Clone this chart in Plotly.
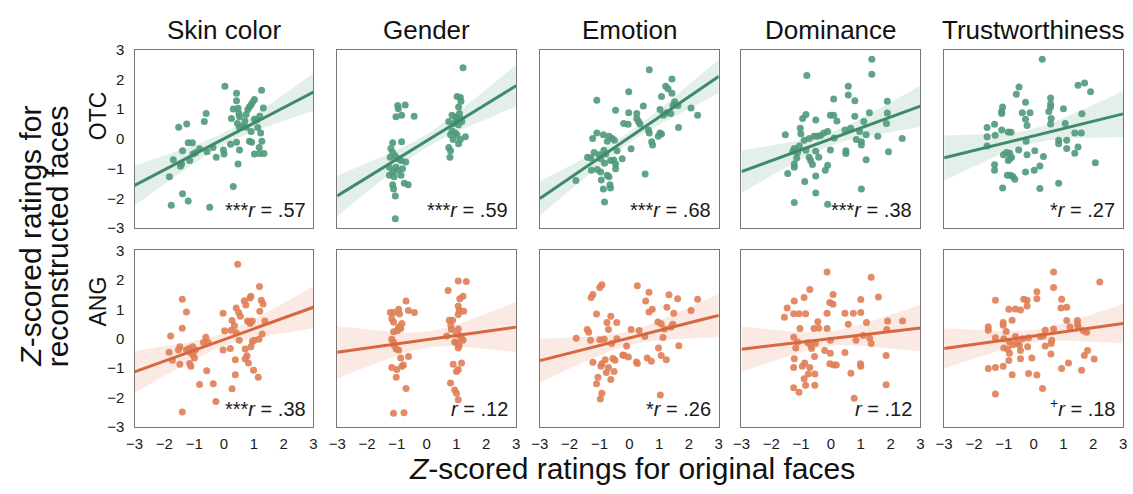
import numpy as np
import plotly.graph_objects as go

rows = ["OTC", "ANG"]
traits = ["Skin color", "Gender", "Emotion", "Dominance", "Trustworthiness"]
r_text = [["***", ".57"], ["***", ".59"], ["***", ".68"], ["***", ".38"], ["*", ".27"],
          ["***", ".38"], ["", ".12"], ["*", ".26"], ["", ".12"], ["+", ".18"]]
tick_vals = [-3, -2, -1, 0, 1, 2, 3]
tick_text = ["\u22123", "\u22122", "\u22121", "0", "1", "2", "3"]

# ---------------- OTC row ----------------
otc_skin_x = [0.03, 0.42, 1.26, 1.02, 0.96, 0.91, 0.85, 0.80, 0.42, 1.32, 0.47, 0.25, 0.52, 0.74, 1.20, 1.09, 1.02, 0.50,
              -0.60, -0.66, -1.52, -1.25, 0.63, 0.52, 0.45, 0.74, 0.91, 1.13, 1.23, 1.27, 1.18, 1.20, 1.34, 1.02, 0.85,
              0.93, 0.42, 0.22, 0.52, -0.02, 0.00, -0.26, -0.37, -0.57, -0.82, -0.95, -1.06, -1.20, -1.04, -1.15, -1.39,
              -1.42, -1.46, -1.70, -1.83, 0.47, 0.31, -1.39, -1.20, -1.77, -0.48, 0.31, 0.70]
otc_skin_y = [1.77, 1.53, 1.63, 1.32, 1.23, 1.15, 1.07, 0.99, 1.28, 1.04, 1.03, 0.68, 0.74, 0.82, 0.76, 0.63, 0.66, 0.85,
              0.85, 0.58, 0.39, 0.50, 0.43, 0.38, 0.52, 0.39, 0.25, 0.38, 0.20, -0.08, -0.29, -0.49, -0.49, -0.51, -0.08,
              -0.11, -0.11, -0.18, -0.37, -0.37, -0.51, -0.62, -0.29, -0.43, -0.33, -0.46, -0.13, -0.13, -0.51, -0.73, -0.40,
              -0.84, -0.92, -0.70, -1.27, -0.84, -1.60, -1.84, -2.09, -2.23, -2.30, 1.00, 0.60]

otc_gender_x = [1.22, 1.02, 1.13, 1.15, 1.07, -0.97, -0.72, -0.95, -1.03, -0.84, -0.42, 0.85, 0.96, 1.02, 1.13, 1.18, 0.93,
                0.74, 1.07, 0.85, 0.96, 1.02, 1.30, 1.13, 0.80, 0.89, 0.74, 0.80, 0.78, 1.07, 1.00, 1.10,
                -1.14, -0.84, -1.20, -1.14, -1.06, -1.22, -0.95, -0.86, -0.70, -1.25, -1.03, -0.81, -1.14, -0.97, -1.25,
                -1.09, -0.86, -1.14, -0.75, -0.62, -1.11, -1.05, -1.05]
otc_gender_y = [2.39, 1.42, 1.39, 1.26, 1.07, 1.12, 1.14, 1.01, 0.74, 0.79, 0.76, 0.79, 0.74, 0.63, 0.68, 0.58, 0.52,
                0.58, 0.47, 0.27, 0.20, 0.14, 0.07, -0.02, 0.14, -0.02, -0.29, -0.40, -0.62, -0.16, 0.68, 0.85,
                -0.13, -0.10, -0.32, -0.46, -0.57, -0.62, -0.67, -0.73, -0.78, -0.95, -0.95, -1.00, -1.11, -1.05, -1.22,
                -1.27, -1.22, -1.54, -1.49, -1.54, -1.68, -1.92, -2.68]

otc_emotion_x = [0.67, 1.43, 1.22, 1.30, 1.43, -0.02, -1.09, 1.08, 1.52, 1.47, 0.47, -0.46, -0.02, 0.25, 1.03, 1.39, 1.63,
                 2.07, 2.29, 1.25, 1.14, 0.25, 0.31, -0.19, -0.04, 0.36, 0.64, 0.67, 1.65, 1.03, 0.97, 1.08, 0.75, 0.78,
                 -1.09, -0.87, -1.23, -0.68, -0.57, -0.74, -0.50, 0.06, -0.85, -0.79, -1.18, -1.01, -0.41, -1.40, -1.29,
                 -0.96, -0.63, -0.52, -0.24, -0.83, -0.46, -1.27, -1.07, -0.96, -0.46, -0.74, -0.68, -0.94, -1.79, 0.53,
                 -0.65, -0.87, -0.63, -0.83]
otc_emotion_y = [2.32, 2.01, 1.77, 1.68, 1.53, 1.58, 1.30, 1.42, 1.25, 1.12, 1.10, 0.96, 0.88, 0.85, 0.99, 0.85, 1.12,
                 1.04, 0.79, 0.88, 0.79, 0.68, 0.58, 0.52, 0.49, 0.50, 0.30, 0.20, 0.38, 0.20, 0.09, 0.16, -0.10, -0.21,
                 0.20, 0.14, 0.01, 0.09, 0.01, -0.08, -0.05, -0.33, -0.38, -0.51, -0.46, -0.53, -0.40, -0.62, -0.64,
                 -0.67, -0.73, -0.71, -0.67, -0.82, -0.84, -1.05, -1.03, -1.11, -1.00, -1.22, -1.27, -1.38, -1.40, -1.18,
                 -1.54, -1.68, -1.65, -2.12]

otc_dominance_x = [1.37, 1.37, -0.81, 0.58, 0.58, 0.80, 0.09, 1.89, -0.84, -0.95, -0.51, -0.02, 0.09, 0.20, 0.80, 1.29,
                   1.89, 1.86, 1.10, -1.03, -1.01, -1.53, -0.73, -0.57, -0.46, -0.35, -0.24, -0.11, 0.47, 0.66, 0.96,
                   1.18, 1.57, 2.39, 0.11, 0.85, 1.02, 1.02, -0.90, -1.06, -1.23, -1.28, -1.12, -0.84, -0.51, -0.02, 0.50,
                   0.50, 1.93, -1.15, -0.73, -0.68, -0.41, 1.18, -1.23, -0.62, -0.11, -1.23, -0.19, -1.45, -0.88, -0.51,
                   1.02, -0.51, -1.23, -0.11]
otc_dominance_y = [2.67, 2.17, 2.13, 1.77, 1.47, 1.28, 1.34, 1.26, 0.82, 0.68, 0.63, 0.79, 0.79, 0.60, 0.76, 0.88,
                   0.87, 0.52, 0.58, 0.36, 0.17, 0.14, 0.01, 0.09, 0.09, 0.11, 0.20, 0.25, 0.30, 0.36, 0.25,
                   0.14, 0.09, 0.01, 0.03, -0.02, -0.10, -0.21, -0.05, -0.24, -0.32, -0.42, -0.46, -0.38, -0.42, -0.37, -0.40,
                   -0.49, -0.43, -0.64, -0.62, -0.73, -0.62, -0.70, -0.84, -0.86, -0.89, -0.95, -1.05, -1.16, -1.43, -1.25,
                   -1.68, -1.82, -2.14, -2.20]

otc_trust_x = [0.29, 1.49, 1.71, 1.91, -0.49, -0.58, -0.27, -1.04, -1.07, -1.07, -0.38, -0.12, 0.57, 0.57, 0.57, 0.51,
               0.59, 0.57, 1.00, 1.62, 1.06, -0.27, -0.22, -1.56, -1.31, -1.07, -0.85, -0.76, -1.56, -1.29, -1.56, -0.25,
               0.84, 0.84, 1.11, 1.38, 1.60, -0.91, -0.80, -1.01, -0.74, -0.85, -0.80, -0.50, -0.22, 0.04, 0.33, 1.11,
               1.49, 1.38, -1.31, -1.31, -0.88, -0.77, -0.69, -0.63, -0.27, 0.02, 0.21, 0.84, -1.04, 0.21, 2.07]
otc_trust_y = [2.67, 1.80, 1.88, 1.58, 1.74, 1.50, 1.23, 1.07, 0.92, 0.85, 0.88, 0.88, 1.37, 1.17, 1.07, 0.92,
               0.68, 0.50, 1.01, 0.84, 0.52, 0.66, 0.45, 0.38, 0.49, 0.30, 0.23, 0.22, 0.07, 0.12, -0.24, -0.08,
               -0.05, -0.16, -0.05, 0.20, 0.20, -0.46, -0.48, -0.53, -0.62, -0.73, -0.67, -0.37, -0.53, -0.40, -0.59, -0.32,
               -0.27, -0.48, -0.87, -1.05, -1.22, -1.22, -1.27, -1.36, -1.11, -1.05, -0.91, -1.49, -1.65, -1.67, -0.80]

# ---------------- ANG row ----------------
ang_skin_x = [0.46, 1.19, -1.40, 0.90, 0.87, 0.68, 0.73, 1.25, 1.31, 0.41, 0.49, 0.55, -0.03, -1.26, -1.40, 1.20, 1.37,
              0.79, 0.84, 0.95, 0.88, 0.27, 0.35, 0.02, 0.24, 0.41, 0.51, -1.79, -0.61, -0.69, -0.53, -1.48, -1.18,
              -1.05, -0.96, -1.13, -1.04, -1.26, -1.53, -1.84, -1.73, -0.99, -0.03, 0.21, 1.01, 0.95, 0.90, 0.71, 1.17,
              1.28, 0.71, 0.77, 0.38, 0.82, -1.48, -1.15, -1.11, -0.58, 0.99, 0.38, 1.15, -0.82, -0.36, 0.27, -0.27,
              -1.40]
ang_skin_y = [2.53, 1.77, 1.34, 1.44, 1.38, 1.29, 1.15, 1.31, 1.18, 1.04, 0.89, 0.76, 0.87, 0.91, 0.36, 0.93, 0.60,
              0.60, 0.57, 0.60, 0.52, 0.62, 0.44, 0.27, 0.29, 0.20, -0.05, 0.09, 0.05, -0.13, -0.13, -0.27, -0.33,
              -0.27, -0.38, -0.46, -0.55, -0.38, -0.38, -0.46, -0.73, -0.65, -0.38, -0.33, -0.05, -0.09, -0.27, -0.35, -0.02,
              0.16, -0.68, -0.58, -0.71, -0.82, -0.87, -0.84, -0.93, -1.09, -1.07, -1.22, -1.31, -1.55, -1.53, -1.70, -2.13,
              -2.49]

ang_gender_x = [-0.69, -0.94, -0.61, -0.41, -1.22, -1.11, -0.91, -1.17, -1.11, -0.83, -0.94, -0.87, -1.11, -0.98, -1.17,
                -1.11, -1.09, -1.02, -0.94, -0.87, -0.61, -0.83, -1.17, -1.00, -0.78, -1.02, -0.69, -1.11, -0.76,
                1.06, 1.33, 0.72, 1.22, 1.11, 1.06, 1.09, 1.24, 1.06, 0.76, 0.87, 0.81, 1.06, 0.83, 1.00, 0.67, 1.11,
                1.17, 1.22, 0.98, 1.09, 1.06, 0.94, 0.89, 1.17, 1.06, 1.00, 0.80, 0.94, 1.00, 1.06]
ang_gender_y = [1.28, 1.00, 0.96, 0.89, 0.89, 0.89, 0.84, 0.68, 0.57, 0.52, 0.40, 0.35, 0.24, 0.27, -0.02,
                -0.11, -0.22, -0.35, -0.38, -0.65, -0.60, -0.93, -0.98, -1.04, -0.89, -1.31, -1.69, -2.53, -2.51,
                1.96, 1.94, 1.64, 1.44, 1.36, 1.11, 0.96, 0.93, 0.82, 0.63, 0.63, 0.46, 0.33, 0.31, 0.16, 0.09, 0.11,
                0.02, -0.05, -0.13, -0.22, -0.31, -0.11, -0.87, -0.82, -1.04, -1.11, -1.50, -1.74, -1.85, -2.07]

ang_emotion_x = [-0.99, -0.92, 0.27, 0.66, 1.33, 1.62, -1.22, -1.28, 0.55, 2.29, 0.77, 0.66, 1.26, 2.07, -1.10, 1.49,
                 -0.62, -0.75, -0.42, 0.96, 1.07, 1.46, 1.40, -1.41, -1.36, -0.70, 0.06, 0.33, 1.18, -1.78, -1.30, -0.99,
                 -0.84, -0.42, 0.52, 1.13, -0.59, -0.09, 0.98, 1.66, -0.22, -0.17, -0.03, 1.07, 1.24, -1.22, -0.81,
                 -0.92, -0.55, -0.48, 0.24, 0.27, 0.60, 0.74, -0.95, -0.77, -0.51, -0.70, -1.05, -0.62, -1.10, -0.92,
                 -0.97, 1.04]
ang_emotion_y = [1.74, 1.83, 1.80, 1.58, 1.49, 1.36, 1.50, 1.40, 1.28, 1.34, 1.00, 0.91, 1.07, 0.96, 0.84, 0.87,
                 0.76, 0.55, 0.55, 0.57, 0.51, 0.49, 0.40, 0.31, 0.22, 0.31, 0.31, 0.28, 0.33, 0.02, -0.05, -0.03,
                 -0.02, 0.00, 0.08, 0.04, -0.16, -0.25, -0.31, -0.24, -0.55, -0.57, -0.62, -0.57, -0.71, -0.80, -0.71,
                 -0.85, -0.67, -0.73, -0.79, -0.84, -0.65, -0.76, -0.93, -1.15, -1.11, -0.98, -1.31, -1.38, -1.53, -1.85,
                 -2.05, -1.91]

ang_dominance_x = [-0.13, 1.35, -0.71, 0.07, 1.59, -0.90, -1.23, -0.04, 0.07, 1.00, -1.47, -1.56, -1.25, -1.07, -0.85,
                   -0.13, 0.47, 0.75, 1.00, -0.44, 0.58, 1.19, 1.90, 2.40, -1.04, -0.57, -0.41, -0.13, 1.87, -1.25,
                   -1.12, -1.18, -0.77, -0.68, -0.65, -0.52, -0.02, 0.84, 1.08, 1.30, 1.35, -0.21, -0.02, 0.47, -0.55,
                   -1.23, 1.85, -1.25, -0.96, -0.88, -0.71, -0.04, 0.09, 0.18, 0.99, 1.00, -0.76, -0.54, -0.90, -0.85,
                   -0.54, 0.67, -1.25, -1.07, 1.85, 0.78]
ang_dominance_y = [2.27, 2.09, 1.67, 1.50, 1.42, 1.40, 1.28, 1.23, 1.17, 1.33, 1.04, 0.73, 0.85, 0.85, 0.85,
                   0.87, 0.87, 0.87, 0.89, 0.58, 0.49, 0.55, 0.60, 0.60, 0.35, 0.35, 0.36, 0.35, 0.31, 0.05,
                   -0.11, -0.31, -0.14, -0.22, -0.33, -0.16, -0.05, -0.05, 0.11, 0.02, -0.16, -0.40, -0.49, -0.47, -0.60,
                   -0.68, -0.57, -0.98, -0.93, -0.82, -0.98, -0.85, -0.89, -0.89, -0.85, -0.93, -1.20, -1.20, -1.36, -1.58,
                   -1.58, -1.17, -1.66, -1.82, -1.56, -2.02]

ang_trust_x = [0.67, 2.22, 0.67, -1.28, 0.11, -0.33, -0.22, 0.11, -0.83, -0.61, -0.44, -0.22, 0.94, 0.92, 1.11, -0.72,
               1.11, 1.47, -1.02, -1.02, -1.52, -1.52, -0.92, 1.47, 1.50, 1.22, -1.28, -1.00, -0.61, 0.39, 0.67, 0.33,
               1.67, 1.78, -0.17, -0.37, -0.81, -0.69, -0.56, -0.48, -1.00, -0.87, -0.20, 0.61, 0.59, 0.39, 0.22,
               -0.44, -0.81, 0.58, 1.81, 1.70, -0.44, -0.06, 2.03, -0.83, -1.52, -1.28, -1.02, 0.94, 1.17, 1.61, -0.72,
               -0.17, 0.11, -1.28, 0.30]
ang_trust_y = [2.27, 1.93, 1.74, 1.31, 1.60, 1.34, 1.31, 1.36, 1.00, 1.01, 0.98, 1.11, 1.34, 1.04, 1.07, 0.63,
               0.62, 0.62, 0.55, 0.46, 0.41, 0.29, 0.25, 0.49, 0.38, 0.40, 0.03, 0.00, 0.08, 0.29, 0.33, 0.09,
               0.27, 0.22, 0.03, 0.00, -0.11, -0.20, -0.14, -0.22, -0.31, -0.35, -0.27, -0.05, -0.16, -0.25, 0.08,
               -0.40, -0.49, -0.52, -0.40, -0.57, -0.68, -0.65, -0.69, -0.74, -1.01, -0.98, -0.93, -1.01, -0.82, -1.07, -1.22,
               -1.18, -1.23, -1.88, -1.69]

data = [
    [(otc_skin_x, otc_skin_y), (otc_gender_x, otc_gender_y), (otc_emotion_x, otc_emotion_y),
     (otc_dominance_x, otc_dominance_y), (otc_trust_x, otc_trust_y)],
    [(ang_skin_x, ang_skin_y), (ang_gender_x, ang_gender_y), (ang_emotion_x, ang_emotion_y),
     (ang_dominance_x, ang_dominance_y), (ang_trust_x, ang_trust_y)],
]

# ---------------- styling ----------------
W, H = 1133, 494
FONT = "Liberation Sans, Arial, Helvetica, sans-serif"
point_col = ["#4f9a7b", "#e07d55"]
line_col = ["#3f8a68", "#d8663e"]
band_col = ["rgba(79,154,123,0.16)", "rgba(235,135,100,0.18)"]
col_left = [127, 332, 537, 741, 946]
col_w = 181
row_top = [42, 250]
row_bot = [227, 433]


def fx(px):
    return px / W


def fy(py):
    return 1 - py / H


fig = go.Figure()
layout = dict(width=W, height=H, margin=dict(l=0, r=0, t=0, b=0), paper_bgcolor="white",
              plot_bgcolor="white", showlegend=False, font=dict(family=FONT, color="#1a1a1a"))
annotations = []
xs = np.linspace(-3, 3, 121)
idx = 0
for ri in range(2):
    for ci in range(5):
        idx += 1
        sfx = "" if idx == 1 else str(idx)
        x = np.array(data[ri][ci][0], dtype=float)
        y = np.array(data[ri][ci][1], dtype=float)
        n = len(x)
        b, a = np.polyfit(x, y, 1)
        yhat = a + b * xs
        resid = y - (a + b * x)
        s = np.sqrt(np.sum(resid ** 2) / (n - 2))
        sxx = np.sum((x - x.mean()) ** 2)
        se = s * np.sqrt(1.0 / n + (xs - x.mean()) ** 2 / sxx)
        up, lo = yhat + 1.99 * se, yhat - 1.99 * se
        fig.add_trace(go.Scatter(x=np.concatenate([xs, xs[::-1]]), y=np.concatenate([up, lo[::-1]]),
                                 fill="toself", fillcolor=band_col[ri], line=dict(width=0), mode="lines",
                                 hoverinfo="skip", xaxis="x" + sfx, yaxis="y" + sfx))
        fig.add_trace(go.Scatter(x=x, y=y, mode="markers", marker=dict(size=7, color=point_col[ri], opacity=0.9),
                                 xaxis="x" + sfx, yaxis="y" + sfx))
        fig.add_trace(go.Scatter(x=xs, y=yhat, mode="lines", line=dict(color=line_col[ri], width=3),
                                 xaxis="x" + sfx, yaxis="y" + sfx))
        l, r = col_left[ci], col_left[ci] + col_w
        t, bt = row_top[ri], row_bot[ri]
        layout["xaxis" + sfx] = dict(domain=[fx(l), fx(r)], range=[-3, 3], anchor="y" + sfx,
                                     showgrid=False, zeroline=False, showline=True, mirror=True,
                                     linecolor="#767676", linewidth=1.3,
                                     tickvals=tick_vals, ticktext=tick_text, showticklabels=(ri == 1),
                                     ticks="outside", ticklen=3, tickcolor="rgba(0,0,0,0)",
                                     tickfont=dict(size=15, color="#1a1a1a", family=FONT))
        layout["yaxis" + sfx] = dict(domain=[fy(bt), fy(t)], range=[-3, 3], anchor="x" + sfx,
                                     showgrid=False, zeroline=False, showline=True, mirror=True,
                                     linecolor="#767676", linewidth=1.3,
                                     tickvals=tick_vals, ticktext=tick_text, showticklabels=(ci == 0),
                                     ticks="outside", ticklen=6, tickcolor="rgba(0,0,0,0)",
                                     tickfont=dict(size=15, color="#1a1a1a", family=FONT))
        stars, rv = r_text[idx - 1]
        pre = "<sup>+</sup>" if stars == "+" else stars
        txt = pre + f"<i>r</i> = {rv}"
        annotations.append(dict(x=fx(r - 6), y=fy(bt - 5), xref="paper", yref="paper", xanchor="right",
                                yanchor="bottom", text=txt, showarrow=False,
                                font=dict(size=20, color="#1a1a1a", family=FONT)))

for ci, tr in enumerate(traits):
    annotations.append(dict(x=fx(col_left[ci] + col_w / 2), y=fy(22), xref="paper", yref="paper",
                            xanchor="center", yanchor="middle", text=tr, showarrow=False,
                            font=dict(size=26, color="#111", family=FONT)))
for ri, rn in enumerate(rows):
    annotations.append(dict(x=fx(90), y=fy([110, 303][ri]), xref="paper", yref="paper", xanchor="center",
                            yanchor="middle", text=rn, textangle=-90, showarrow=False,
                            font=dict(size=23, color="#111", family=FONT)))
annotations.append(dict(x=fx(22), y=fy(235), xref="paper", yref="paper", xanchor="center", yanchor="middle",
                        text="<i>Z</i>-scored ratings for", textangle=-90, showarrow=False,
                        font=dict(size=30, color="#111", family=FONT)))
annotations.append(dict(x=fx(49), y=fy(235), xref="paper", yref="paper", xanchor="center", yanchor="middle",
                        text="reconstructed faces", textangle=-90, showarrow=False,
                        font=dict(size=30, color="#111", family=FONT)))
annotations.append(dict(x=fx(630), y=fy(476), xref="paper", yref="paper", xanchor="center", yanchor="middle",
                        text="<i>Z</i>-scored ratings for original faces", showarrow=False,
                        font=dict(size=30, color="#111", family=FONT)))
layout["annotations"] = annotations
fig.update_layout(**layout)
fig.write_html("out.html", config={"displayModeBar": False},
               post_script="document.body.style.margin='0px';document.body.style.overflow='hidden';")
